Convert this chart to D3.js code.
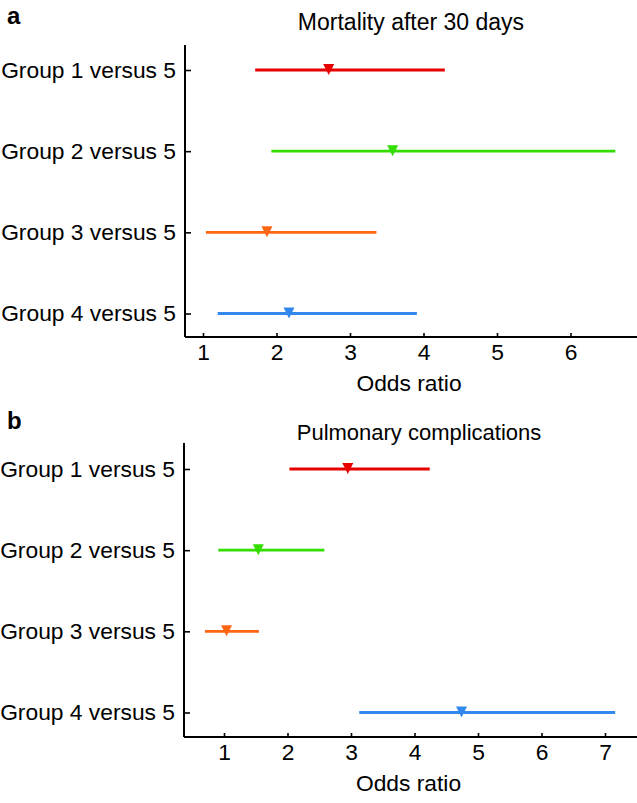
<!DOCTYPE html>
<html><head><meta charset="utf-8">
<script src="https://cdn.jsdelivr.net/npm/d3@7"></script>
<style>body{margin:0;background:#fff}svg{display:block}text{font-family:"Liberation Sans",Arial,sans-serif}</style>
</head><body>
<script>
const groups = ["Group 1 versus 5","Group 2 versus 5","Group 3 versus 5","Group 4 versus 5"];
const colors = ["#e60000","#33dd00","#ff6614","#3388ee"];
// Panel a: Mortality after 30 days
const mortEst = [2.71, 3.58, 1.87, 2.17];
const mortLow = [1.71, 1.93, 1.04, 1.20];
const mortHigh = [4.29, 6.61, 3.36, 3.91];
const mortTicks = [1,2,3,4,5,6];
// Panel b: Pulmonary complications
const pulmEst = [2.95, 1.54, 1.04, 4.74];
const pulmLow = [2.03, 0.91, 0.70, 3.13];
const pulmHigh = [4.24, 2.58, 1.55, 7.16];
const pulmTicks = [1,2,3,4,5,6,7];

const W = 637, H = 803;
const FS = 22.8;
const svg = d3.select("body").append("svg").attr("width", W).attr("height", H);

function panel(cfg){
  const g = svg.append("g");
  const x = d3.scaleLinear().domain(cfg.domain).range([cfg.left, W]);
  const y = d3.scalePoint().domain(groups).range([cfg.rowTop, cfg.rowBottom]);
  const xa = g.append("g").attr("transform", `translate(0,${cfg.bottom})`)
    .call(d3.axisBottom(x).tickValues(cfg.ticks).tickFormat(d3.format("d")).tickSizeInner(-4).tickSizeOuter(0).tickPadding(7));
  xa.select(".domain").attr("stroke","#000").attr("stroke-width",2).attr("d",`M${cfg.left},0H${W}`);
  xa.selectAll(".tick line").attr("stroke","#000").attr("stroke-width",1.6);
  xa.selectAll(".tick text").attr("font-size",FS).attr("fill","#000").attr("font-family","Liberation Sans, Arial, sans-serif");
  const ya = g.append("g").attr("transform", `translate(${cfg.left},0)`)
    .call(d3.axisLeft(y).tickSizeInner(-6).tickSizeOuter(0).tickPadding(9));
  ya.select(".domain").attr("stroke","#000").attr("stroke-width",2).attr("d",`M0,${cfg.top}V${cfg.bottom}`);
  ya.selectAll(".tick line").attr("stroke","#000").attr("stroke-width",1.6);
  ya.selectAll(".tick text").attr("font-size",FS).attr("fill","#000").attr("font-family","Liberation Sans, Arial, sans-serif");
  groups.forEach((grp,i)=>{
    g.append("line").attr("x1", x(cfg.low[i])).attr("x2", x(cfg.high[i]))
      .attr("y1", y(grp)).attr("y2", y(grp))
      .attr("stroke", colors[i]).attr("stroke-width", 2.8);
    const cx = x(cfg.est[i]), cy = y(grp);
    g.append("path").attr("d", `M${cx-5.5},${cy-6}L${cx+5.5},${cy-6}L${cx},${cy+5}Z`).attr("fill", colors[i]);
  });
  g.append("text").attr("x", cfg.titleX).attr("y", cfg.titleY).attr("text-anchor","middle")
    .attr("font-size",cfg.titleFS).text(cfg.title);
  g.append("text").attr("x", (cfg.left+W)/2 - 2).attr("y", cfg.bottom+54).attr("text-anchor","middle")
    .attr("font-size",FS).text("Odds ratio");
  g.append("text").attr("x", 7).attr("y", cfg.letterY).attr("font-size",24).attr("font-weight","bold").text(cfg.letter);
}

panel({domain:[1-18/73.5, 1+434/73.5], left:185, top:45, bottom:337, rowTop:70, rowBottom:313.5,
  ticks:mortTicks, est:mortEst, low:mortLow, high:mortHigh, title:"Mortality after 30 days", titleX:411, titleY:30, titleFS:23, letter:"a", letterY:24});
panel({domain:[1-40/63.5, 1+413/63.5], left:184, top:443, bottom:737, rowTop:469, rowBottom:712.5,
  ticks:pulmTicks, est:pulmEst, low:pulmLow, high:pulmHigh, title:"Pulmonary complications", titleX:419, titleY:440, titleFS:22, letter:"b", letterY:429});
</script>
</body></html>
